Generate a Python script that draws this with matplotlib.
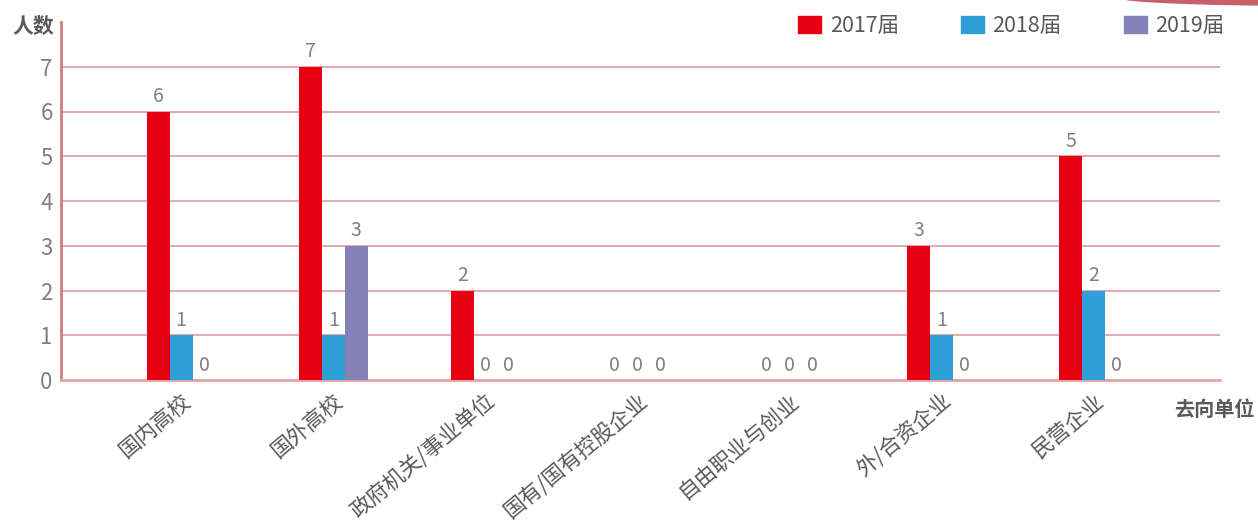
import matplotlib
matplotlib.use("Agg")
import matplotlib.pyplot as plt
import matplotlib.patches as mpatches
import numpy as np

plt.rcParams['font.family'] = ['Noto Sans CJK SC', 'DejaVu Sans']

categories = ["国内高校", "国外高校", "政府机关/事业单位", "国有/国有控股企业",
              "自由职业与创业", "外/合资企业", "民营企业"]
years = ["2017届", "2018届", "2019届"]
v2017 = [6, 7, 2, 0, 0, 3, 5]
v2018 = [1, 1, 0, 0, 0, 1, 2]
v2019 = [0, 3, 0, 0, 0, 0, 0]
colors = ["#e60012", "#2e9fd8", "#8580b5"]

fig = plt.figure(figsize=(12.58, 5.21), dpi=100)
ax = fig.add_axes([61 / 1258, 1 - 380 / 521, (1220 - 61) / 1258, (380 - 22) / 521])

x = np.arange(len(categories))
w = 0.151
series = [v2017, v2018, v2019]
for i, vals in enumerate(series):
    pos = x + (i - 1) * w
    ax.bar(pos, vals, width=w, color=colors[i], zorder=3)
    for px, v in zip(pos, vals):
        ax.text(px, v + 0.1, str(v), ha='center', va='bottom', fontsize=14,
                color='#808080', fontweight='light')

ax.set_xlim(-0.79, 6.83)
ax.set_ylim(0, 8)
ax.set_yticks(range(8))
ax.set_yticklabels([str(t) for t in range(8)], fontsize=16, color='#808080', fontweight='light')
ax.set_xticks(x)
ax.set_xticklabels(categories, rotation=40, ha='right', rotation_mode='anchor',
                   fontsize=15.5, color='#595959')
ax.tick_params(axis='both', length=0)
ax.tick_params(axis='y', pad=6)
ax.tick_params(axis='x', pad=7)

for t in range(1, 8):
    ax.axhline(t, color='#e0a3a8', linewidth=1.3, zorder=1)

for s in ['top', 'right']:
    ax.spines[s].set_visible(False)
ax.spines['left'].set_color('#d27b84')
ax.spines['left'].set_linewidth(2)
ax.spines['bottom'].set_color('#e0a3a8')
ax.spines['bottom'].set_linewidth(2)

fig.text(33 / 1258, 1 - 26 / 521, "人数", ha='center', va='center', fontsize=15,
         color='#595959', fontweight='bold')
fig.text(1214 / 1258, 1 - 409 / 521, "去向单位", ha='center', va='center', fontsize=14.5,
         color='#595959', fontweight='bold')

handles = [mpatches.Patch(color=c, label=y) for c, y in zip(colors, years)]
fig.legend(handles=handles, loc='center left', bbox_to_anchor=(779 / 1258, 1 - 26 / 521),
           ncol=3, frameon=False, fontsize=15.5, labelcolor='#595959',
           handlelength=1.05, handleheight=0.8, handletextpad=0.4, columnspacing=2.9)

# decorative arc at top right
fig.patches.append(mpatches.Ellipse((1330 / 1258, 1 + 2.4 / 521), 420 / 1258, 15.8 / 521,
                                    transform=fig.transFigure, color='#c8606c'))

fig.savefig("out.png", dpi=100)
